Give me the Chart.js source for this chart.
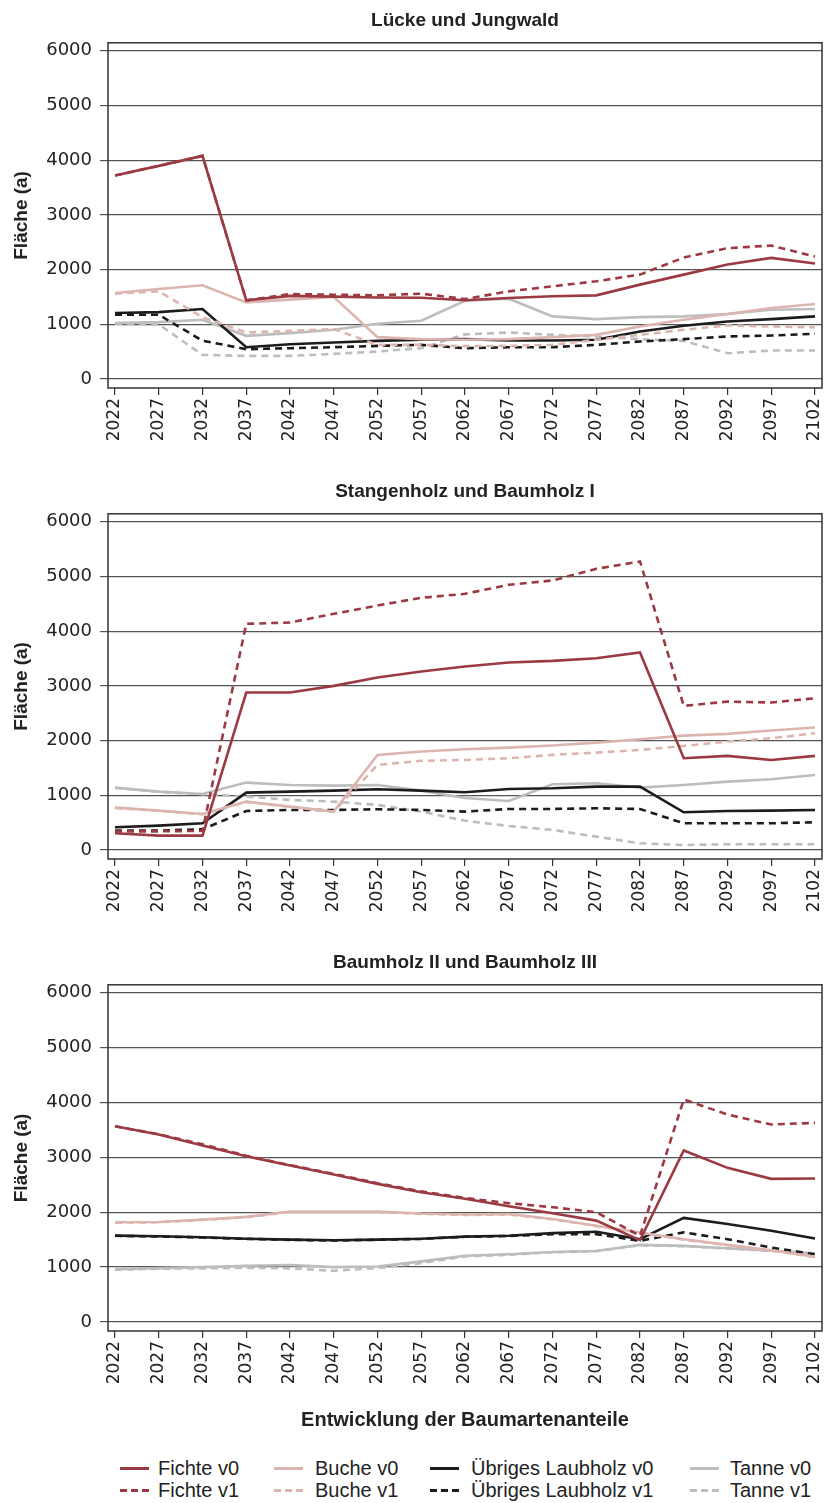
<!DOCTYPE html>
<html>
<head>
<meta charset="utf-8">
<title>Entwicklung der Baumartenanteile</title>
<script src="https://cdn.jsdelivr.net/npm/chart.js"></script>
<style>
    body { margin: 0; background: #fff; width: 824px; height: 1503px; position: relative; overflow: hidden;
           font-family: "Liberation Sans", Arial, sans-serif; }
    canvas { position: absolute; left: 0; }
    .item { position: absolute; font-size: 20px; color: #222; white-space: nowrap; height: 22px; line-height: 22px; }
    .sample { position: absolute; width: 29px; height: 3px; }
</style>
</head>
<body>
<canvas id="c1" width="824" height="460" style="top:0px"></canvas>
<canvas id="c2" width="824" height="460" style="top:471px"></canvas>
<canvas id="c3" width="824" height="500" style="top:942px"></canvas>
<div id="legend"></div>

<script>
const years = [2022, 2027, 2032, 2037, 2042, 2047, 2052, 2057, 2062, 2067, 2072, 2077, 2082, 2087, 2092, 2097, 2102];
const yTicks = [0, 1000, 2000, 3000, 4000, 5000, 6000];
const titles = ["Lücke und Jungwald", "Stangenholz und Baumholz I", "Baumholz II und Baumholz III"];
const species = ["Fichte", "Buche", "Übriges Laubholz", "Tanne"];
const colors = ["#9c3a43", "#dcb6ae", "#1c1c1c", "#bdbdbd"];

// Lücke und Jungwald
const jungFichteV0 = [3720, 3896, 4079, 1437, 1520, 1505, 1490, 1485, 1440, 1480, 1511, 1529, 1725, 1908, 2092, 2214, 2110];
const jungFichteV1 = [3720, 3896, 4079, 1437, 1553, 1541, 1529, 1560, 1462, 1602, 1694, 1786, 1908, 2220, 2390, 2439, 2238];
const jungBucheV0 = [1572, 1645, 1713, 1401, 1450, 1498, 765, 728, 716, 728, 765, 807, 960, 1083, 1187, 1297, 1370];
const jungBucheV1 = [1560, 1602, 1130, 850, 880, 911, 624, 624, 600, 605, 624, 716, 807, 899, 979, 960, 942];
const jungLaubV0 = [1205, 1223, 1278, 581, 636, 667, 697, 716, 728, 703, 703, 716, 869, 972, 1052, 1095, 1144];
const jungLaubV1 = [1174, 1174, 700, 544, 563, 581, 605, 624, 563, 581, 581, 624, 685, 728, 777, 795, 826];
const jungTanneV0 = [1021, 1040, 1083, 789, 838, 899, 1009, 1064, 1430, 1468, 1144, 1095, 1131, 1144, 1187, 1266, 1278];
const jungTanneV1 = [1010, 1000, 440, 422, 422, 459, 502, 563, 815, 850, 807, 777, 728, 697, 471, 520, 520];

// Stangenholz und Baumholz I
const stangFichteV0 = [305, 262, 262, 2878, 2878, 3000, 3152, 3262, 3354, 3427, 3457, 3506, 3610, 1677, 1720, 1646, 1720];
const stangFichteV1 = [340, 340, 350, 4134, 4159, 4317, 4470, 4610, 4683, 4848, 4927, 5140, 5274, 2634, 2713, 2695, 2774];
const stangBucheV0 = [774, 720, 659, 884, 793, 701, 1738, 1799, 1841, 1872, 1909, 1963, 2024, 2091, 2122, 2183, 2238];
const stangBucheV1 = [770, 716, 655, 880, 790, 698, 1555, 1630, 1646, 1677, 1738, 1780, 1829, 1902, 1982, 2043, 2134];
const stangLaubV0 = [415, 445, 488, 1049, 1067, 1085, 1110, 1085, 1055, 1116, 1128, 1159, 1159, 689, 713, 720, 732];
const stangLaubV1 = [354, 354, 378, 713, 732, 732, 744, 732, 701, 750, 750, 762, 750, 488, 488, 488, 506];
const stangTanneV0 = [1140, 1067, 1024, 1232, 1189, 1177, 1189, 1085, 950, 896, 1201, 1220, 1140, 1189, 1250, 1293, 1372];
const stangTanneV1 = [1135, 1062, 1020, 976, 915, 884, 823, 701, 535, 439, 366, 244, 122, 91, 104, 104, 104];

// Baumholz II und Baumholz III
const baumFichteV0 = [3568, 3416, 3216, 3021, 2851, 2687, 2517, 2365, 2245, 2110, 1982, 1847, 1491, 3125, 2809, 2608, 2614];
const baumFichteV1 = [3568, 3420, 3240, 3030, 2860, 2700, 2530, 2380, 2260, 2165, 2092, 2000, 1571, 4055, 3781, 3599, 3629];
const baumBucheV0 = [1817, 1823, 1866, 1915, 2012, 2012, 2012, 1976, 1960, 1969, 1877, 1755, 1632, 1509, 1405, 1307, 1190];
const baumBucheV1 = [1810, 1818, 1860, 1910, 2005, 2005, 2005, 1970, 1950, 1960, 1870, 1750, 1625, 1500, 1400, 1300, 1185];
const baumLaubV0 = [1573, 1561, 1543, 1518, 1500, 1488, 1500, 1518, 1555, 1571, 1620, 1644, 1509, 1896, 1785, 1663, 1521];
const baumLaubV1 = [1570, 1558, 1540, 1515, 1497, 1485, 1497, 1515, 1552, 1568, 1600, 1601, 1479, 1632, 1509, 1356, 1233];
const baumTanneV0 = [963, 982, 1000, 1024, 1037, 1000, 1012, 1104, 1207, 1233, 1276, 1294, 1405, 1387, 1344, 1301, 1251];
const baumTanneV1 = [951, 970, 976, 988, 976, 933, 982, 1073, 1195, 1225, 1270, 1290, 1400, 1380, 1340, 1295, 1245];

const panels = [
    [jungFichteV0, jungFichteV1, jungBucheV0, jungBucheV1, jungLaubV0, jungLaubV1, jungTanneV0, jungTanneV1],
    [stangFichteV0, stangFichteV1, stangBucheV0, stangBucheV1, stangLaubV0, stangLaubV1, stangTanneV0, stangTanneV1],
    [baumFichteV0, baumFichteV1, baumBucheV0, baumBucheV1, baumLaubV0, baumLaubV1, baumTanneV0, baumTanneV1]
];

const frame = {
    id: "frame",
    afterDraw(chart) {
        const a = chart.chartArea, ctx = chart.ctx;
        ctx.save();
        ctx.strokeStyle = "#333";
        ctx.lineWidth = 1.5;
        ctx.strokeRect(a.left, a.top, a.right - a.left, a.bottom - a.top);
        ctx.restore();
    }
};

function makeChart(id, idx) {
    const last = idx === 2;
    const sets = [];
    // Fichte zuerst = oben gezeichnet
    panels[idx].forEach((vals, k) => {
        const s = Math.floor(k / 2), v1 = k % 2 === 1;
        sets.push({
            label: species[s] + (v1 ? " v1" : " v0"),
            data: years.map((y, i) => ({ x: y, y: vals[i] })),
            borderColor: colors[s],
            borderWidth: 2.6,
            borderDash: v1 ? [7, 5] : [],
            pointRadius: 0,
            tension: 0,
            fill: false
        });
    });

    new Chart(document.getElementById(id), {
        type: "line",
        data: { datasets: sets },
        options: {
            responsive: false,
            animation: false,
            layout: { padding: { left: 0, right: 2, top: 0, bottom: 0 } },
            plugins: {
                legend: { display: false },
                tooltip: { enabled: false },
                title: {
                    display: true, text: titles[idx], color: "#222", fullSize: false,
                    font: { family: "Liberation Sans", size: 19, weight: "bold", lineHeight: 1.2 },
                    padding: { top: 9, bottom: 11 }
                }
            },
            scales: {
                x: {
                    type: "linear", min: 2021.2, max: 2102.8,
                    afterBuildTicks: s => { s.ticks = years.map(v => ({ value: v })); },
                    afterFit: s => { s.height = last ? 111 : 72; s.paddingLeft = 0; s.paddingRight = 0; },
                    grid: { drawOnChartArea: false, drawTicks: true, tickLength: 7, color: "#333", lineWidth: 1.2 },
                    border: { display: false },
                    ticks: {
                        minRotation: 90, maxRotation: 90, padding: 3, color: "#222",
                        font: { family: "DejaVu Sans", size: 17 },
                        callback: v => String(v)
                    },
                    title: {
                        display: last, text: "Entwicklung der Baumartenanteile", color: "#222",
                        font: { family: "Liberation Sans", size: 20, weight: "bold" },
                        padding: { top: 0, bottom: 10 }
                    }
                },
                y: {
                    min: -165, max: 6146,
                    afterBuildTicks: s => { s.ticks = yTicks.map(v => ({ value: v })); },
                    afterFit: s => { s.width = 108; },
                    grid: { color: "#555", lineWidth: 1.2, tickLength: 8 },
                    border: { display: false },
                    ticks: {
                        padding: 8, color: "#222",
                        font: { family: "DejaVu Sans", size: 18 },
                        callback: v => String(v)
                    },
                    title: {
                        display: true, text: "Fläche (a)", color: "#222",
                        font: { family: "Liberation Sans", size: 19, weight: "bold" },
                        padding: { top: 10, bottom: 0 }
                    }
                }
            }
        },
        plugins: [frame]
    });
}

makeChart("c1", 0);
makeChart("c2", 1);
makeChart("c3", 2);

// Legende: obere Zeile v0, untere Zeile v1
const legendSampleX = [120, 274, 430, 690];
const legendTextX = [158, 315, 471, 730];
const legendRowY = [1457, 1479];
const legend = document.getElementById("legend");
species.forEach((name, s) => {
    [0, 1].forEach(r => {
        const line = document.createElement("div");
        line.className = "sample";
        line.style.left = legendSampleX[s] + "px";
        line.style.top = (legendRowY[r] + 10) + "px";
        line.style.background = r === 0 ? colors[s]
            : "repeating-linear-gradient(to right, " + colors[s] + " 0 7px, transparent 7px 11px)";
        legend.appendChild(line);
        const txt = document.createElement("div");
        txt.className = "item";
        txt.style.left = legendTextX[s] + "px";
        txt.style.top = legendRowY[r] + "px";
        txt.textContent = name + (r === 0 ? " v0" : " v1");
        legend.appendChild(txt);
    });
});
</script>
</body>
</html>
